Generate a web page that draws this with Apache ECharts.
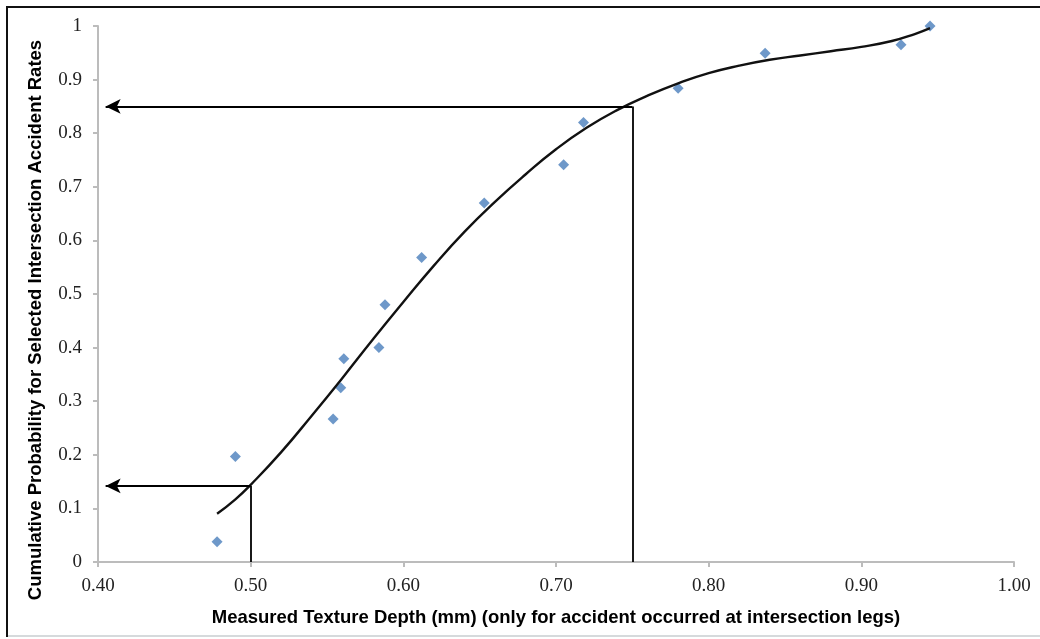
<!DOCTYPE html>
<html>
<head>
<meta charset="utf-8">
<script src="https://cdn.jsdelivr.net/npm/echarts@6/dist/echarts.min.js"></script>
<style>
  html, body { margin: 0; padding: 0; background: #fff; }
  #chart { width: 1040px; height: 639px; }
</style>
</head>
<body>
<div id="chart"></div>
<script>
// measured points (texture depth, cumulative probability)
const depth = [0.478, 0.490, 0.554, 0.559, 0.561, 0.584, 0.588, 0.612, 0.653, 0.705, 0.718, 0.780, 0.837, 0.926, 0.945];
const prob  = [0.038, 0.197, 0.267, 0.325, 0.379, 0.400, 0.480, 0.568, 0.670, 0.741, 0.820, 0.884, 0.949, 0.965, 1.000];

// fitted trend curve
const fitDepth = [0.478, 0.490, 0.500, 0.520, 0.540, 0.560, 0.580, 0.600, 0.620, 0.640, 0.660, 0.680, 0.700, 0.720, 0.740, 0.760, 0.780, 0.800, 0.820, 0.840, 0.860, 0.880, 0.900, 0.920, 0.935, 0.945];
const fitProb  = [0.090, 0.117, 0.144, 0.205, 0.273, 0.343, 0.415, 0.485, 0.553, 0.616, 0.672, 0.723, 0.770, 0.810, 0.843, 0.870, 0.893, 0.912, 0.926, 0.937, 0.945, 0.953, 0.961, 0.972, 0.985, 0.996];

// read-off lines: depth -> probability, arrow ends near the y axis
const readDepth = [0.50, 0.75];
const readProb  = [0.142, 0.850];
const arrowTip  = 0.405;

const chart = echarts.init(document.getElementById('chart'));

const serifFont = '"Liberation Serif", "Times New Roman", serif';
const sansFont = '"Liberation Sans", Arial, sans-serif';

// vertical segment up from the x axis, then arrow left to the y axis
const readLines = [];
readDepth.forEach(function(d, i) {
    readLines.push([
        { coord: [d, 0], symbol: 'none' },
        { coord: [d, readProb[i]], symbol: 'none' }
    ]);
    readLines.push([
        { coord: [d, readProb[i]], symbol: 'none' },
        { coord: [arrowTip, readProb[i]], symbol: 'arrow', symbolSize: [11, 15] }
    ]);
});

const option = {
    animation: false,
    backgroundColor: '#fff',
    grid: { left: 98, right: 26, top: 26, bottom: 77 },
    xAxis: {
        type: 'value',
        min: 0.4,
        max: 1.0,
        interval: 0.1,
        name: 'Measured Texture Depth (mm) (only for accident occurred at intersection legs)',
        nameLocation: 'middle',
        nameGap: 46,
        nameTextStyle: { fontFamily: sansFont, fontWeight: 'bold', fontSize: 18.5, color: '#000' },
        axisLine: { lineStyle: { color: '#bcbcbc', width: 2 } },
        axisTick: { show: true, length: 5, lineStyle: { color: '#bcbcbc', width: 2 } },
        axisLabel: {
            margin: 15,
            fontFamily: serifFont,
            fontSize: 19,
            color: '#222',
            formatter: function(v) { return v.toFixed(2); }
        },
        splitLine: { show: false }
    },
    yAxis: {
        type: 'value',
        min: 0,
        max: 1,
        interval: 0.1,
        name: 'Cumulative Probability for Selected Intersection Accident Rates',
        nameLocation: 'middle',
        nameGap: 53,
        nameTextStyle: {
            fontFamily: sansFont, fontWeight: 'bold', fontSize: 18.5, color: '#000',
            padding: [0, 52, 0, 0]
        },
        axisLine: { show: true, lineStyle: { color: '#bcbcbc', width: 2 } },
        axisTick: { show: true, length: 5, lineStyle: { color: '#bcbcbc', width: 2 } },
        axisLabel: {
            margin: 16,
            fontFamily: serifFont,
            fontSize: 19,
            color: '#222',
            formatter: function(v) {
                if (v === 0 || v === 1) return String(v);
                return v.toFixed(1);
            }
        },
        splitLine: { show: false }
    },
    series: [
        {
            name: 'Measured',
            type: 'scatter',
            symbol: 'diamond',
            symbolSize: 11,
            clip: false,
            itemStyle: { color: '#4a7ebb' },
            data: depth.map(function(d, i) { return [d, prob[i]]; }),
            z: 3
        },
        {
            name: 'Fitted',
            type: 'line',
            smooth: 0.5,
            showSymbol: false,
            symbol: 'none',
            clip: false,
            lineStyle: { color: '#111', width: 2.4 },
            data: fitDepth.map(function(d, i) { return [d, fitProb[i]]; }),
            z: 4
        },
        {
            name: 'Read-off',
            type: 'line',
            data: [],
            markLine: {
                silent: true,
                animation: false,
                symbol: ['none', 'none'],
                label: { show: false },
                emphasis: { disabled: true },
                lineStyle: { color: '#000', width: 1.8, type: 'solid' },
                data: readLines
            }
        }
    ],
    graphic: [
        {
            type: 'polyline',
            shape: { points: [[7, 637], [7, 7], [1040, 7]] },
            style: { stroke: '#111', lineWidth: 2, fill: null },
            silent: true
        },
        {
            type: 'line',
            shape: { x1: 8, y1: 636, x2: 1040, y2: 636 },
            style: { stroke: '#d6dadc', lineWidth: 2 },
            silent: true
        }
    ]
};

chart.setOption(option);
</script>
</body>
</html>
